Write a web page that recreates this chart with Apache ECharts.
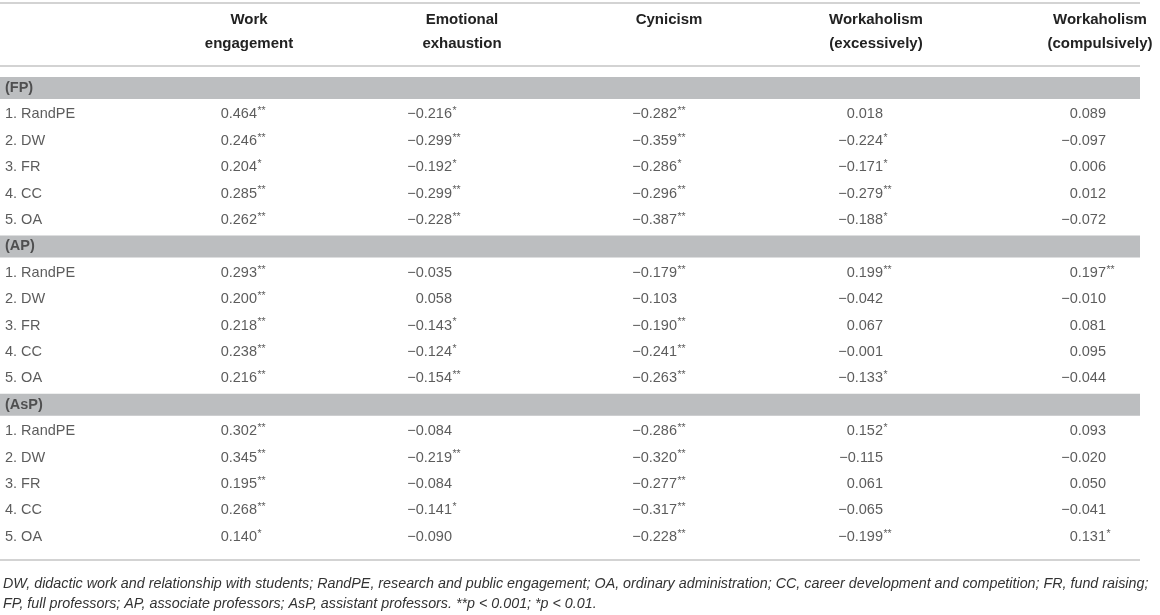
<!DOCTYPE html>
<html>
<head>
<meta charset="utf-8">
<script src="https://cdn.jsdelivr.net/npm/echarts@6/dist/echarts.min.js"></script>
<style>
  html, body { margin: 0; padding: 0; background: #fff; }
  #main { width: 1160px; height: 615px; }
</style>
</head>
<body>
<div id="main"></div>
<script>
// table content
var columns = ['Work\nengagement', 'Emotional\nexhaustion', 'Cynicism', 'Workaholism\n(excessively)', 'Workaholism\n(compulsively)'];
var groups = ['(FP)', '(AP)', '(AsP)'];
var rowNames = ['1. RandPE', '2. DW', '3. FR', '4. CC', '5. OA'];

var fpValues = [
    ['0.464**', '\u22120.216*', '\u22120.282**', '0.018', '0.089'],
    ['0.246**', '\u22120.299**', '\u22120.359**', '\u22120.224*', '\u22120.097'],
    ['0.204*', '\u22120.192*', '\u22120.286*', '\u22120.171*', '0.006'],
    ['0.285**', '\u22120.299**', '\u22120.296**', '\u22120.279**', '0.012'],
    ['0.262**', '\u22120.228**', '\u22120.387**', '\u22120.188*', '\u22120.072']
];
var apValues = [
    ['0.293**', '\u22120.035', '\u22120.179**', '0.199**', '0.197**'],
    ['0.200**', '0.058', '\u22120.103', '\u22120.042', '\u22120.010'],
    ['0.218**', '\u22120.143*', '\u22120.190**', '0.067', '0.081'],
    ['0.238**', '\u22120.124*', '\u22120.241**', '\u22120.001', '0.095'],
    ['0.216**', '\u22120.154**', '\u22120.263**', '\u22120.133*', '\u22120.044']
];
var aspValues = [
    ['0.302**', '\u22120.084', '\u22120.286**', '0.152*', '0.093'],
    ['0.345**', '\u22120.219**', '\u22120.320**', '\u22120.115', '\u22120.020'],
    ['0.195**', '\u22120.084', '\u22120.277**', '0.061', '0.050'],
    ['0.268**', '\u22120.141*', '\u22120.317**', '\u22120.065', '\u22120.041'],
    ['0.140*', '\u22120.090', '\u22120.228**', '\u22120.199**', '0.131*']
];

var footnote = 'DW, didactic work and relationship with students; RandPE, research and public engagement; OA, ordinary administration; CC, career development and competition; FR, fund raising;\n' +
    'FP, full professors; AP, associate professors; AsP, assistant professors. **p < 0.001; *p < 0.01.';

// layout
var FONT = '"Liberation Sans", Arial, sans-serif';
var TEXT = '#333333';
var RULE = '#c4c4c4';
var BAND = '#bcbec0';
var colOffset = [-28, -23, 12, 28, 61];   // digit end relative to column centre
var headerX = [249, 462, 669, 876, 1100];

var groupValues = [fpValues, apValues, aspValues];
var yCats = [];
var bandRows = [];
var nameCells = [];
var numCells = [];
var starCells = [];

groups.forEach(function (g, gi) {
    var r = yCats.length;
    yCats.push(g);
    bandRows.push([0, r]);
    nameCells.push({ value: [0, r], label: { fontWeight: 'bold' }, text: g });
    groupValues[gi].forEach(function (row, ri) {
        var y = yCats.length;
        yCats.push(rowNames[ri]);
        nameCells.push({ value: [0, y], text: rowNames[ri] });
        row.forEach(function (cell, ci) {
            var m = cell.match(/^([^*]+)(\**)$/);
            numCells.push({ value: [ci + 1, y], text: m[1], label: { offset: [colOffset[ci], 0] } });
            if (m[2]) {
                starCells.push({ value: [ci + 1, y], text: m[2], label: { offset: [colOffset[ci] + 0.5, -3] } });
            }
        });
    });
});

var myChart = echarts.init(document.getElementById('main'));

var graphics = [];
[3, 66, 560].forEach(function (y) {
    graphics.push({ type: 'line', shape: { x1: 0, y1: y, x2: 1140, y2: y }, style: { stroke: RULE, lineWidth: 1.5 } });
});
columns.forEach(function (c, i) {
    graphics.push({
        type: 'text', x: headerX[i], y: 8,
        style: { text: c, fill: '#222', font: 'bold 15px ' + FONT, align: 'center', verticalAlign: 'top', lineHeight: 24 }
    });
});
graphics.push({
    type: 'text', x: 3, y: 574,
    style: { text: footnote, fill: TEXT, font: 'italic 14.3px ' + FONT, align: 'left', verticalAlign: 'top', lineHeight: 20 }
});

var option = {
    animation: false,
    grid: { left: 0, right: 20, top: 74.8, height: 475.2 },
    xAxis: { type: 'category', data: ['', 'c1', 'c2', 'c3', 'c4', 'c5'], show: false },
    yAxis: { type: 'category', data: yCats, inverse: true, show: false },
    graphic: graphics,
    series: [
        {
            type: 'custom',
            silent: true,
            data: bandRows,
            renderItem: function (params, api) {
                var p = api.coord([0, api.value(1)]);
                return {
                    type: 'rect',
                    shape: { x: params.coordSys.x, y: p[1] - 11, width: params.coordSys.width, height: 22 },
                    style: { fill: BAND }
                };
            }
        },
        {
            type: 'scatter', symbolSize: 0, silent: true,
            data: nameCells,
            label: {
                show: true, position: 'right', distance: 0, offset: [-90, 0],
                formatter: function (p) { return p.data.text; },
                color: TEXT, fontSize: 14.5, fontFamily: FONT
            }
        },
        {
            type: 'scatter', symbolSize: 0, silent: true,
            data: numCells,
            label: {
                show: true, position: 'left', distance: 0,
                formatter: function (p) { return p.data.text; },
                color: TEXT, fontSize: 14.5, fontFamily: FONT
            }
        },
        {
            type: 'scatter', symbolSize: 0, silent: true,
            data: starCells,
            label: {
                show: true, position: 'right', distance: 0,
                formatter: function (p) { return p.data.text; },
                color: TEXT, fontSize: 10.5, fontFamily: FONT
            }
        }
    ]
};

myChart.setOption(option);
</script>
</body>
</html>
